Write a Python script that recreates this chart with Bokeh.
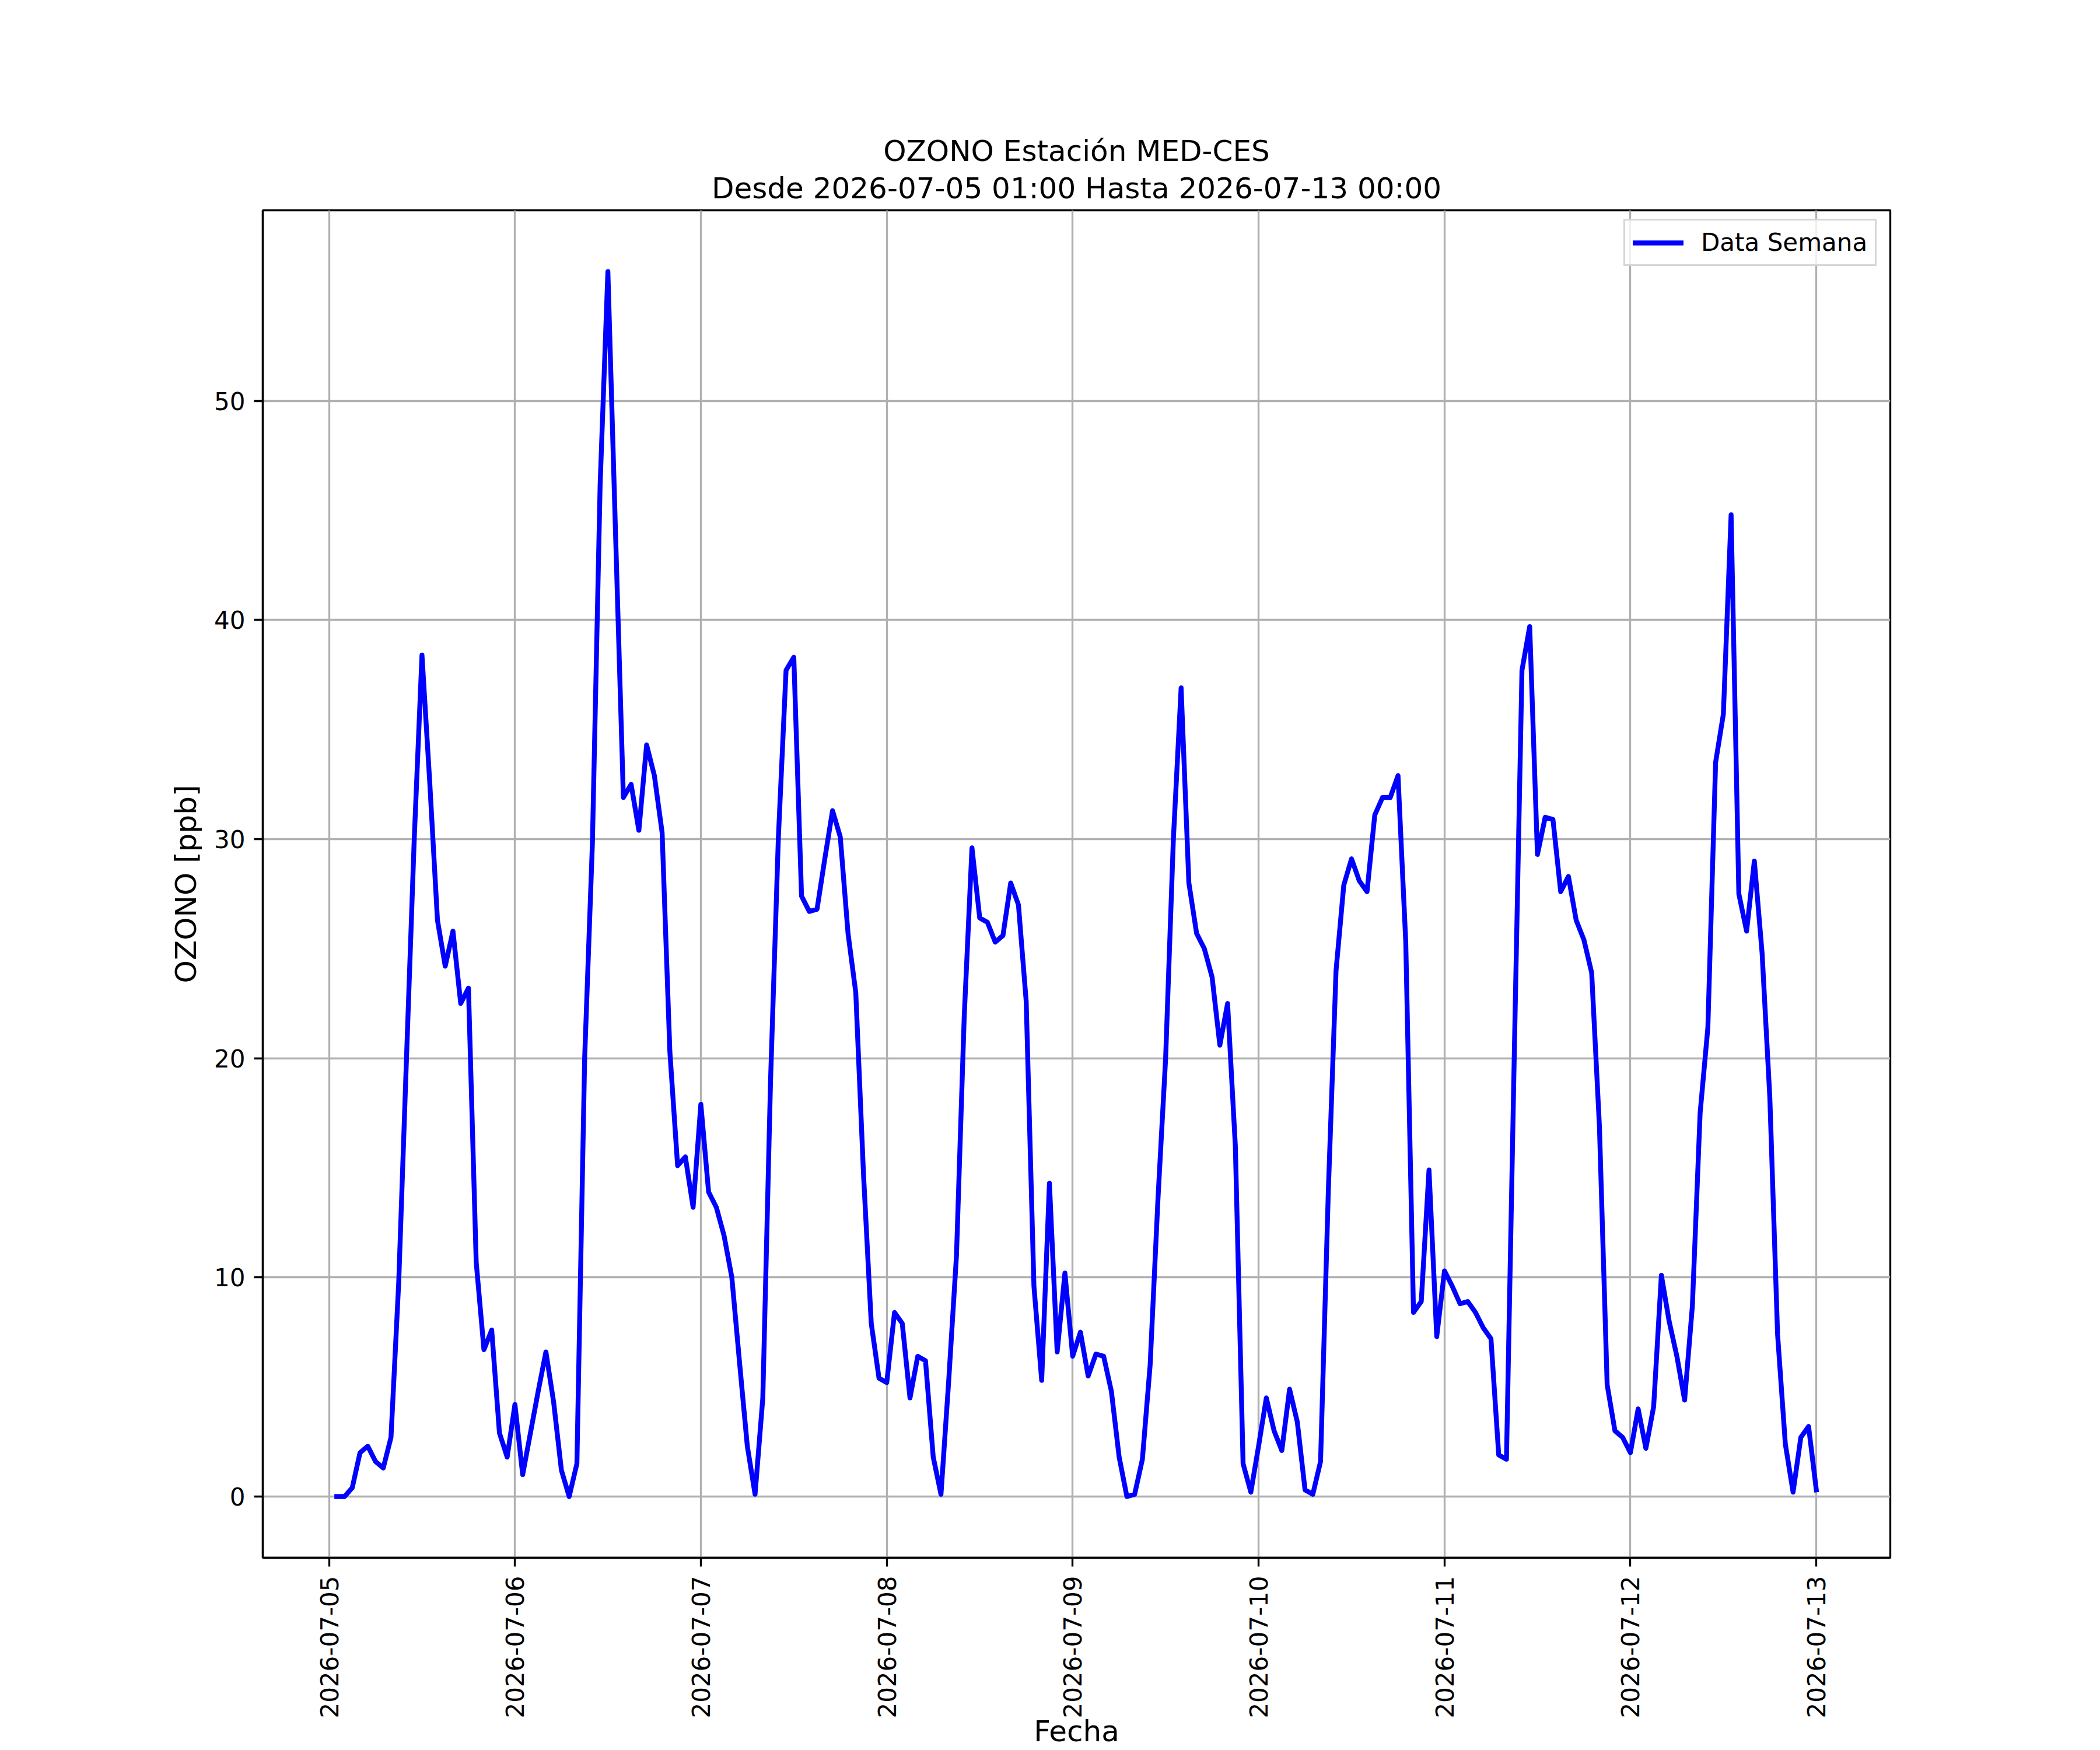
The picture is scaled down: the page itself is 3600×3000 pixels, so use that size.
import math
import pandas as pd
from bokeh.plotting import figure
from bokeh.models import (Range1d, DaysTicker, DatetimeTickFormatter, SingleIntervalTicker,
                          Title, Legend, LegendItem, ColumnDataSource)
from bokeh.embed import file_html
from bokeh.resources import INLINE

# ---------------- data ----------------
start_time = "2026-07-05 01:00"
ozono_ppb = [
    0.0, 0.0, 0.4, 2.0, 2.3, 1.6, 1.3, 2.7, 9.8, 20.0, 30.0, 38.4,
    32.6, 26.3, 24.2, 25.8, 22.5, 23.2, 10.7, 6.7, 7.6, 2.9, 1.8, 4.2,
    1.0, 2.9, 4.8, 6.6, 4.3, 1.2, 0.0, 1.5, 20.0, 29.8, 46.2, 55.9,
    43.8, 31.9, 32.5, 30.4, 34.3, 32.9, 30.3, 20.3, 15.1, 15.5, 13.2, 17.9,
    13.9, 13.2, 11.9, 10.0, 6.1, 2.3, 0.1, 4.5, 19.0, 30.0, 37.7, 38.3,
    27.4, 26.7, 26.8, 29.1, 31.3, 30.1, 25.7, 23.0, 14.7, 7.9, 5.4, 5.2,
    8.4, 7.9, 4.5, 6.4, 6.2, 1.8, 0.1, 5.3, 11.0, 21.9, 29.6, 26.4,
    26.2, 25.3, 25.6, 28.0, 27.0, 22.6, 9.6, 5.3, 14.3, 6.6, 10.2, 6.4,
    7.5, 5.5, 6.5, 6.4, 4.8, 1.8, 0.0, 0.1, 1.7, 6.0, 13.5, 20.0,
    30.0, 36.9, 28.0, 25.7, 25.0, 23.7, 20.6, 22.5, 16.0, 1.5, 0.2, 2.3,
    4.5, 3.0, 2.1, 4.9, 3.4, 0.3, 0.1, 1.6, 13.9, 24.0, 27.9, 29.1,
    28.1, 27.6, 31.1, 31.9, 31.9, 32.9, 25.3, 8.4, 8.9, 14.9, 7.3, 10.3,
    9.6, 8.8, 8.9, 8.4, 7.7, 7.2, 1.9, 1.7, 20.0, 37.7, 39.7, 29.3,
    31.0, 30.9, 27.6, 28.3, 26.3, 25.4, 23.9, 16.9, 5.1, 3.0, 2.7, 2.0,
    4.0, 2.2, 4.1, 10.1, 8.0, 6.4, 4.4, 8.7, 17.5, 21.4, 33.5, 35.7,
    44.8, 27.5, 25.8, 29.0, 24.8, 18.2, 7.4, 2.4, 0.2, 2.7, 3.2, 0.3,
]
times = pd.date_range(start_time, periods=len(ozono_ppb), freq="h")
series_label = "Data Semana"
title_line1 = "OZONO Estación MED-CES"
title_line2 = f"Desde {times[0]:%Y-%m-%d %H:%M} Hasta {times[-1]:%Y-%m-%d %H:%M}"
y_label = "OZONO [ppb]"
x_label = "Fecha"
y_tick_step = 10

# ---------------- ranges (matplotlib-like 5% margins) ----------------
span_t = times[-1] - times[0]
x_lo = (times[0] - 0.05 * span_t).to_pydatetime()
x_hi = (times[-1] + 0.05 * span_t).to_pydatetime()
vmin, vmax = min(ozono_ppb), max(ozono_ppb)
y_lo = vmin - 0.05 * (vmax - vmin)
y_hi = vmax + 0.05 * (vmax - vmin)

FONT = "DejaVu Sans"
LW = 3.33

W, H = 3600, 3000
BL, BR, BT, BB = 450, 360, 360, 330
FW, FH = W - BL - BR, H - BT - BB

p = figure(width=W, height=H, x_axis_type="datetime",
           x_range=Range1d(x_lo, x_hi), y_range=Range1d(y_lo, y_hi),
           output_backend="svg", toolbar_location=None, title=None,
           min_border_left=BL, min_border_right=BR, min_border_top=BT, min_border_bottom=BB)
p.background_fill_color = "white"
p.border_fill_color = "white"
p.outline_line_color = "black"
p.outline_line_width = LW

src = ColumnDataSource(dict(t=times, v=ozono_ppb))
r = p.line("t", "v", source=src, line_color="#0000ff", line_width=8.33,
           line_join="round", line_cap="square")

# axes
p.xaxis.ticker = DaysTicker(days=list(range(1, 32)))
fmt = "%Y-%m-%d"
p.xaxis.formatter = DatetimeTickFormatter(days=fmt, months=fmt, hours=fmt, years=fmt)
p.xaxis.major_label_orientation = math.pi / 2
p.yaxis.ticker = SingleIntervalTicker(interval=y_tick_step, num_minor_ticks=0)

for ax in (p.xaxis[0], p.yaxis[0]):
    ax.axis_line_color = "black"
    ax.axis_line_width = LW
    ax.major_tick_line_color = "black"
    ax.major_tick_line_width = LW
    ax.major_tick_out = 15
    ax.major_tick_in = 0
    ax.minor_tick_line_color = None
    ax.major_label_text_font = FONT
    ax.major_label_text_font_size = "42px"
    ax.major_label_text_color = "black"
    ax.axis_label_text_font = FONT
    ax.axis_label_text_font_size = "50px"
    ax.axis_label_text_font_style = "normal"
    ax.axis_label_text_color = "black"
p.yaxis.major_label_standoff = 15
p.xaxis.major_label_standoff = 16
p.yaxis.axis_label = y_label
p.yaxis.axis_label_standoff = 16
p.xaxis.axis_label = x_label
p.xaxis.axis_label_standoff = -10

for g in (p.xgrid[0], p.ygrid[0]):
    g.grid_line_color = "#b0b0b0"
    g.grid_line_width = LW

# titles (first added sits closest to the frame)
t2 = Title(text=title_line2, align="center", text_font=FONT, text_font_size="50px",
           text_font_style="normal", text_color="black", standoff=17)
t1 = Title(text=title_line1, align="center", text_font=FONT, text_font_size="50px",
           text_font_style="normal", text_color="black", standoff=-8)
p.add_layout(t2, "above")
p.add_layout(t1, "above")

legend = Legend(items=[LegendItem(label=series_label, renderers=[r])],
                location=(2333, FH - 96), margin=0, padding=13, spacing=0,
                glyph_width=87, glyph_height=42, label_height=42, label_standoff=30,
                label_text_font=FONT, label_text_font_size="42px", label_text_color="black",
                border_line_color="#cccccc", border_line_width=LW, border_line_alpha=0.8,
                background_fill_color="white", background_fill_alpha=0.8)
p.add_layout(legend)

open("out.html", "w").write(file_html(p, INLINE))
